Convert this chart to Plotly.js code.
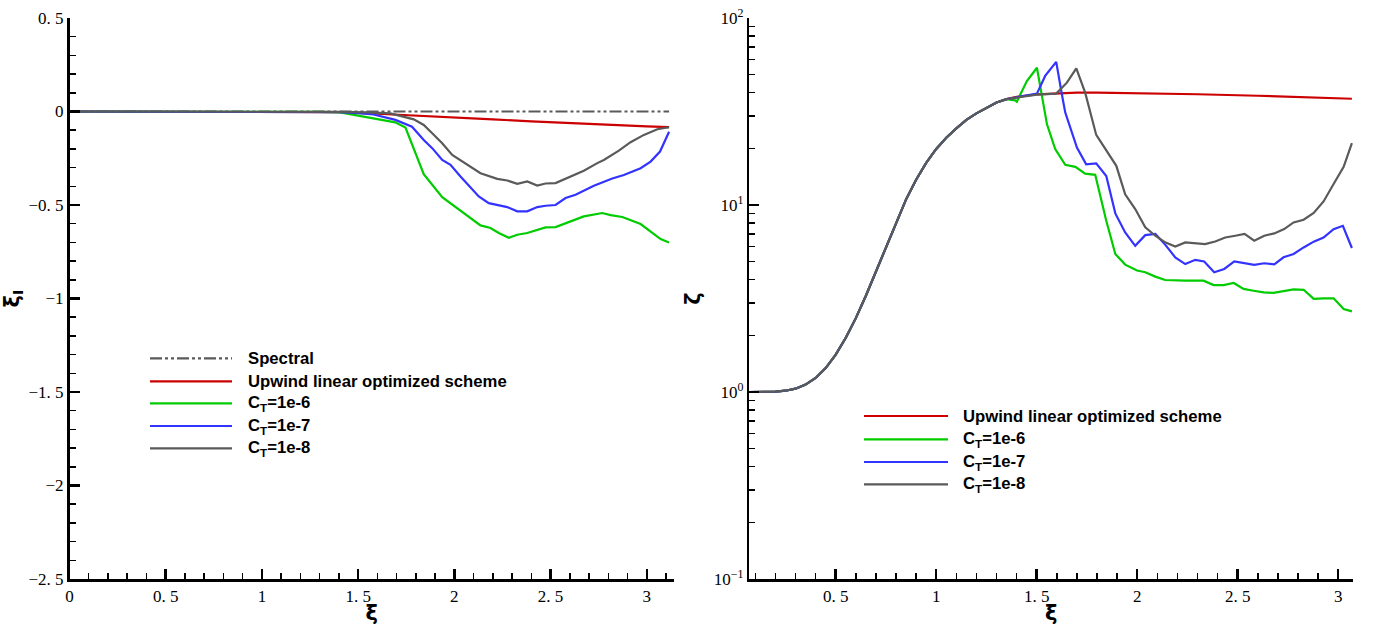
<!DOCTYPE html>
<html>
<head>
<meta charset="utf-8">
<script src="https://cdn.plot.ly/plotly-3.0.1.min.js"></script>
<style>
  html, body { margin: 0; padding: 0; background: #fff; }
  #chart { width: 1373px; height: 625px; }
</style>
</head>
<body>
<div id="chart"></div>
<script>
// ---- Left panel: imaginary part of the modified wavenumber ----
const spectralX = [0, 3.116];
const spectralY = [0, 0];

const upwindX = [0, 1.0, 1.2, 1.4, 1.6, 1.8, 2.0, 2.2, 2.4, 2.6, 2.8, 3.0, 3.116];
const upwindY = [0, 0, -0.001, -0.004, -0.012, -0.021, -0.031, -0.042, -0.053, -0.063, -0.072, -0.080, -0.084];

const ct6X = [0, 1.0, 1.2, 1.3, 1.407, 1.511, 1.6, 1.693, 1.746, 1.841, 1.937, 2.032, 2.136, 2.188, 2.231, 2.283, 2.327, 2.379, 2.474, 2.526, 2.604, 2.673, 2.769, 2.812, 2.873, 2.968, 3.072, 3.116];
const ct6Y = [0, 0, -0.001, -0.002, -0.005, -0.024, -0.040, -0.058, -0.086, -0.335, -0.458, -0.531, -0.609, -0.623, -0.650, -0.675, -0.659, -0.650, -0.620, -0.618, -0.586, -0.561, -0.543, -0.554, -0.564, -0.602, -0.682, -0.700];

const ct7X = [0, 1.0, 1.2, 1.3, 1.4, 1.5, 1.58, 1.694, 1.780, 1.841, 1.885, 1.937, 1.980, 2.032, 2.127, 2.179, 2.275, 2.327, 2.379, 2.431, 2.474, 2.526, 2.578, 2.630, 2.725, 2.821, 2.881, 2.968, 3.020, 3.069, 3.116];
const ct7Y = [0, 0, -0.001, -0.002, -0.004, -0.009, -0.016, -0.045, -0.081, -0.152, -0.196, -0.259, -0.285, -0.348, -0.454, -0.490, -0.511, -0.534, -0.534, -0.511, -0.504, -0.500, -0.463, -0.445, -0.397, -0.358, -0.340, -0.303, -0.268, -0.214, -0.108];

const ct8X = [0, 1.0, 1.2, 1.4, 1.55, 1.668, 1.789, 1.841, 1.885, 1.937, 1.989, 2.084, 2.136, 2.223, 2.275, 2.327, 2.379, 2.431, 2.474, 2.526, 2.604, 2.673, 2.743, 2.777, 2.855, 2.916, 2.985, 3.055, 3.116];
const ct8Y = [0, 0, -0.001, -0.002, -0.005, -0.010, -0.042, -0.072, -0.116, -0.170, -0.232, -0.298, -0.330, -0.360, -0.369, -0.387, -0.374, -0.396, -0.385, -0.383, -0.348, -0.317, -0.276, -0.259, -0.209, -0.164, -0.125, -0.095, -0.084];

// ---- Right panel: amplification (log scale) ----
// shared low-wavenumber branch, identical for every scheme
const riseX = [0.07, 0.15, 0.2, 0.25, 0.3, 0.35, 0.4, 0.45, 0.5, 0.55, 0.6, 0.65, 0.7, 0.75, 0.8, 0.85, 0.9, 0.95, 1.0, 1.05, 1.1, 1.15, 1.2, 1.25, 1.3, 1.35];
const riseY = [1.0, 1.0, 1.005, 1.016, 1.042, 1.096, 1.189, 1.343, 1.585, 1.950, 2.483, 3.273, 4.416, 6.026, 8.128, 10.72, 13.65, 16.79, 19.95, 22.91, 25.70, 28.51, 30.90, 33.11, 35.32, 36.81];

const upwindTailX = [1.4, 1.5, 1.6, 1.7, 1.8, 2.0, 2.3, 2.6, 2.9, 3.068];
const upwindTailY = [37.84, 39.08, 39.63, 39.9, 39.9, 39.7, 39.1, 38.4, 37.6, 37.0];

const ct6TailX = [1.393, 1.401, 1.451, 1.501, 1.526, 1.551, 1.592, 1.642, 1.692, 1.741, 1.791, 1.846, 1.891, 1.940, 1.999, 2.040, 2.090, 2.139, 2.239, 2.330, 2.380, 2.430, 2.480, 2.529, 2.579, 2.629, 2.678, 2.728, 2.778, 2.828, 2.878, 2.927, 2.977, 3.027, 3.068];
const ct6TailY = [36.3, 35.7, 46.0, 54.2, 39.1, 27.0, 19.9, 16.4, 16.0, 14.7, 14.5, 8.24, 5.47, 4.80, 4.46, 4.37, 4.14, 3.97, 3.94, 3.94, 3.73, 3.73, 3.83, 3.56, 3.48, 3.41, 3.39, 3.48, 3.54, 3.52, 3.15, 3.17, 3.17, 2.78, 2.70];

const ct7TailX = [1.4, 1.45, 1.501, 1.542, 1.597, 1.625, 1.642, 1.700, 1.746, 1.796, 1.846, 1.891, 1.940, 1.990, 2.040, 2.090, 2.139, 2.189, 2.239, 2.289, 2.333, 2.383, 2.433, 2.483, 2.532, 2.582, 2.632, 2.682, 2.728, 2.778, 2.828, 2.878, 2.927, 2.977, 3.023, 3.068];
const ct7TailY = [37.6, 38.6, 39.4, 49.0, 58.3, 39.1, 31.2, 20.3, 16.5, 16.7, 14.3, 9.02, 7.13, 6.05, 6.90, 7.00, 6.14, 5.25, 4.83, 5.09, 4.99, 4.37, 4.55, 4.99, 4.88, 4.78, 4.88, 4.81, 5.25, 5.47, 5.93, 6.37, 6.70, 7.43, 7.74, 5.89];

const ct8TailX = [1.4, 1.5, 1.597, 1.650, 1.697, 1.741, 1.796, 1.846, 1.896, 1.940, 1.990, 2.040, 2.090, 2.139, 2.189, 2.239, 2.289, 2.338, 2.388, 2.438, 2.488, 2.534, 2.582, 2.632, 2.682, 2.731, 2.778, 2.828, 2.878, 2.927, 2.977, 3.027, 3.068];
const ct8TailY = [37.6, 38.9, 39.4, 45.1, 53.8, 39.9, 23.7, 19.5, 16.2, 11.4, 9.51, 7.59, 6.85, 6.31, 6.00, 6.31, 6.24, 6.18, 6.38, 6.70, 6.85, 7.00, 6.44, 6.85, 7.05, 7.43, 8.07, 8.34, 9.06, 10.45, 12.94, 16.0, 21.4];

// ---- series names, colours, tick labels ----
const leftNames = ['Spectral', 'Upwind linear optimized scheme', 'C<sub>T</sub>=1e-6', 'C<sub>T</sub>=1e-7', 'C<sub>T</sub>=1e-8'];
const rightNames = ['Upwind linear optimized scheme', 'C<sub>T</sub>=1e-6', 'C<sub>T</sub>=1e-7', 'C<sub>T</sub>=1e-8'];
const colSpectral = '#5a5a5a', colUpwind = '#cc0000', colCt6 = '#00cc00', colCt7 = '#3333ff', colCt8 = '#5a5a5a';
const spectralDash = '12px,3px,3px,3px,3px,3px';

const leftXTicks = [0, 0.5, 1, 1.5, 2, 2.5, 3];
const leftXText = ['0', '0. 5', '1', '1. 5', '2', '2. 5', '3'];
const leftYTicks = [-2.5, -2, -1.5, -1, -0.5, 0, 0.5];
const leftYText = ['\u22122. 5', '\u22122', '\u22121. 5', '\u22121', '\u22120. 5', '0', '0. 5'];
const rightXTicks = [0.5, 1, 1.5, 2, 2.5, 3];
const rightXText = ['0. 5', '1', '1. 5', '2', '2. 5', '3'];
const rightYTicks = [0.1, 1, 10, 100];
const rightYText = ['10<sup>\u22121</sup>', '10<sup>0</sup>', '10<sup>1</sup>', '10<sup>2</sup>'];

// ---- geometry (figure pixels) ----
const W = 1373, H = 625;
const fx = p => p / W;
const fy = p => 1 - p / H;

function line(x, y, color, xa, ya, dash) {
  return { x, y, type: 'scatter', mode: 'lines', xaxis: xa, yaxis: ya, showlegend: false,
           hoverinfo: 'skip', line: { color, width: 2.2, dash: dash || 'solid' } };
}

const traces = [
  line(spectralX, spectralY, colSpectral, 'x', 'y', spectralDash),
  line(upwindX, upwindY, colUpwind, 'x', 'y'),
  line(ct6X, ct6Y, colCt6, 'x', 'y'),
  line(ct7X, ct7Y, colCt7, 'x', 'y'),
  line(ct8X, ct8Y, colCt8, 'x', 'y'),
  line(riseX.concat(upwindTailX), riseY.concat(upwindTailY), colUpwind, 'x2', 'y2'),
  line(riseX.concat(ct6TailX), riseY.concat(ct6TailY), colCt6, 'x2', 'y2'),
  line(riseX.concat(ct7TailX), riseY.concat(ct7TailY), colCt7, 'x2', 'y2'),
  line(riseX.concat(ct8TailX), riseY.concat(ct8TailY), colCt8, 'x2', 'y2')
];

const tickFont = { family: 'Liberation Serif, Times New Roman, serif', size: 17, color: '#000' };
const titleFont = { family: 'DejaVu Sans, sans-serif', size: 21, color: '#000', weight: 'bold' };

function axisBase() {
  return {
    showline: true, linecolor: '#000', linewidth: 2.5, mirror: false,
    showgrid: false, zeroline: false,
    ticks: 'inside', ticklen: 10, tickwidth: 2.5, tickcolor: '#000',
    tickfont: tickFont, tickmode: 'array', automargin: false
  };
}

const leftDom = [fx(69.5), fx(674)];
const rightDom = [fx(749.3), fx(1353.3)];
const yDom = [fy(579), fy(18)];

const layout = {
  width: W, height: H,
  margin: { l: 0, r: 0, t: 0, b: 0 },
  paper_bgcolor: '#fff', plot_bgcolor: '#fff',
  showlegend: false,
  xaxis: Object.assign(axisBase(), {
    domain: leftDom, anchor: 'y', range: [0, Math.PI],
    tickvals: leftXTicks, ticktext: leftXText,
    minor: { ticks: 'inside', ticklen: 6, tickwidth: 1.5, tickcolor: '#000', dtick: 0.1, tick0: 0, showgrid: false },
    title: { text: '\u03be', font: titleFont, standoff: 1 }
  }),
  yaxis: Object.assign(axisBase(), {
    domain: yDom, anchor: 'x', range: [-2.5, 0.5],
    tickvals: leftYTicks, ticktext: leftYText,
    minor: { ticks: 'inside', ticklen: 6, tickwidth: 1.5, tickcolor: '#000', dtick: 0.1, tick0: 0, showgrid: false },
    title: { text: '\u03be<sub>I</sub>', font: titleFont, standoff: 8 }
  }),
  xaxis2: Object.assign(axisBase(), {
    domain: rightDom, anchor: 'y2', range: [0.07, 3.075],
    tickvals: rightXTicks, ticktext: rightXText,
    minor: { ticks: 'inside', ticklen: 6, tickwidth: 1.5, tickcolor: '#000', dtick: 0.1, tick0: 0, showgrid: false },
    title: { text: '\u03be', font: titleFont, standoff: 1 }
  }),
  yaxis2: Object.assign(axisBase(), {
    domain: yDom, anchor: 'x2', type: 'log', range: [-1, 2],
    tickvals: rightYTicks, ticktext: rightYText,
    minor: { ticks: 'inside', ticklen: 6, tickwidth: 1.5, tickcolor: '#000', dtick: 'D1', showgrid: false },
    title: { text: '\u03b6', font: titleFont, standoff: 8 }
  }),
  shapes: [],
  annotations: []
};

// legends drawn as sample segments plus labels
const legendFont = { family: 'Liberation Sans, Arial, sans-serif', size: 16.7, color: '#000' };
function addLegend(names, colors, dashes, x0, x1, xText, rowsY) {
  names.forEach((n, i) => {
    layout.shapes.push({ type: 'line', xref: 'paper', yref: 'paper',
      x0: fx(x0), x1: fx(x1), y0: fy(rowsY[i]), y1: fy(rowsY[i]),
      line: { color: colors[i], width: 2.2, dash: dashes[i] } });
    layout.annotations.push({ xref: 'paper', yref: 'paper', x: fx(xText), y: fy(rowsY[i]),
      xanchor: 'left', yanchor: 'middle', showarrow: false, text: '<b>' + n + '</b>', font: legendFont });
  });
}
addLegend(leftNames, [colSpectral, colUpwind, colCt6, colCt7, colCt8],
  [spectralDash, 'solid', 'solid', 'solid', 'solid'], 150, 232, 246, [358.3, 381.3, 403.3, 426, 448.3]);
addLegend(rightNames, [colUpwind, colCt6, colCt7, colCt8],
  ['solid', 'solid', 'solid', 'solid'], 864, 948, 961, [416, 439.3, 462, 484.3]);

Plotly.newPlot('chart', traces, layout, { staticPlot: true, displayModeBar: false });
</script>
</body>
</html>
